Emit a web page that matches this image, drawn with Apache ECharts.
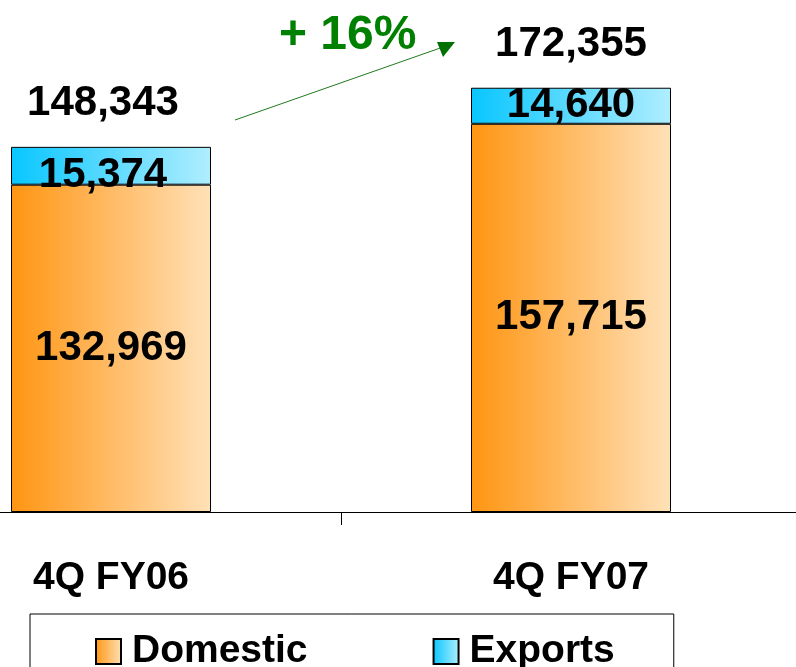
<!DOCTYPE html>
<html>
<head>
<meta charset="utf-8">
<script src="https://cdn.jsdelivr.net/npm/echarts@6/dist/echarts.min.js"></script>
<style>
  html, body { margin: 0; padding: 0; background: #fff; }
  #main { width: 796px; height: 667px; }
</style>
</head>
<body>
<div id="main"></div>
<script>
// 数据
var categories = ['4Q FY06', '4Q FY07'];
var domestic = [132969, 157715];
var exportsData = [15374, 14640];
var totals = [148343, 172355];
var growthText = '+ 16%';

var FONT = 'Liberation Sans, Arial, sans-serif';

var myChart = echarts.init(document.getElementById('main'));

function hGrad(c0, c1) {
  return new echarts.graphic.LinearGradient(0, 0, 1, 0, [
    { offset: 0, color: c0 },
    { offset: 1, color: c1 }
  ]);
}

function fmt(p) { return p.value.toLocaleString('en-US'); }

var labelStyle = {
  show: true,
  position: 'inside',
  color: '#000',
  fontFamily: FONT,
  fontWeight: 'bold',
  fontSize: 42,
  formatter: fmt
};

var option = {
  animation: false,
  backgroundColor: '#fff',
  // 轴线延伸到画布外，让两根柱子落在原图位置
  grid: { left: -119, right: -5, top: 0, bottom: 155, outerBoundsMode: 'none', containLabel: false },
  xAxis: {
    type: 'category',
    data: categories,
    axisLine: { lineStyle: { color: '#000', width: 1 } },
    axisTick: { show: true, length: 13, lineStyle: { color: '#000' } },
    axisLabel: {
      color: '#000',
      fontFamily: FONT,
      fontWeight: 'bold',
      fontSize: 39,
      margin: 47
    }
  },
  yAxis: { type: 'value', min: 0, max: 208000, show: false },
  legend: {
    left: 30,
    top: 614,
    padding: [18, 59, 30, 65],
    borderColor: '#000',
    borderWidth: 1,
    itemWidth: 25,
    itemHeight: 25,
    itemGap: 125,
    icon: 'rect',
    textStyle: { color: '#000', fontFamily: FONT, fontWeight: 'bold', fontSize: 39, padding: [0, 0, 0, 6] },
    data: ['Domestic', 'Exports']
  },
  series: [
    {
      name: 'Domestic',
      type: 'bar',
      stack: 'total',
      barWidth: 200,
      data: domestic,
      itemStyle: { color: hGrad('#ff9512', '#ffe1b8'), borderColor: '#000', borderWidth: 1 },
      label: labelStyle
    },
    {
      name: 'Exports',
      type: 'bar',
      stack: 'total',
      barWidth: 200,
      data: exportsData.map(function (v, i) {
        return i === 0 ? { value: v, label: { offset: [-8, 10] } } : v;
      }),
      itemStyle: { color: hGrad('#08c6ff', '#b0eeff'), borderColor: '#000', borderWidth: 1 },
      label: labelStyle
    },
    {
      name: 'Total',
      type: 'scatter',
      data: totals.map(function (v, i) {
        return i === 0 ? { value: v, label: { offset: [-8, 0] } } : v;
      }),
      symbolSize: 0,
      silent: true,
      itemStyle: { opacity: 1, color: 'transparent' },
      label: {
        show: true,
        position: 'top',
        distance: 22,
        color: '#000',
        fontFamily: FONT,
        fontWeight: 'bold',
        fontSize: 42,
        formatter: fmt
      }
    }
  ],
  graphic: [
    {
      type: 'line',
      shape: { x1: 235, y1: 120, x2: 446, y2: 46 },
      style: { stroke: '#1f7a1f', lineWidth: 1 }
    },
    {
      type: 'polygon',
      shape: { points: [[455, 42], [437, 42], [443, 57]] },
      style: { fill: '#007000' }
    },
    {
      type: 'text',
      left: 279,
      top: 12,
      style: {
        text: growthText,
        fill: '#008000',
        font: 'bold 48px ' + FONT
      }
    }
  ]
};

myChart.setOption(option);
</script>
</body>
</html>
